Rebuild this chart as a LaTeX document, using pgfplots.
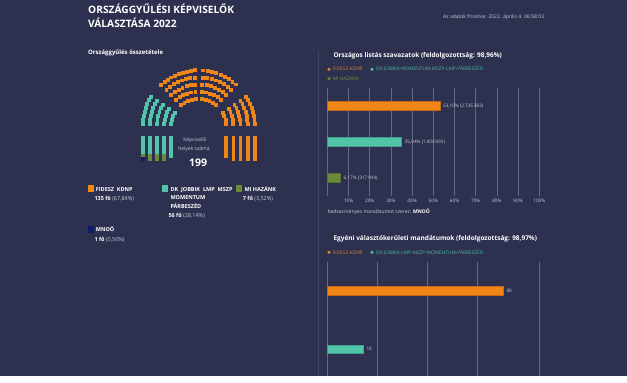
\documentclass[border=0pt]{standalone}
\usepackage{fontspec}
\setmainfont{Open Sans}
\usepackage{pgfplots}
\pgfplotsset{compat=1.18}
\definecolor{bg}{RGB}{45,48,79}
\definecolor{cOr}{RGB}{240,134,24}
\definecolor{cOrD}{RGB}{196,104,22}
\definecolor{cTe}{RGB}{82,196,170}
\definecolor{cTeD}{RGB}{60,160,140}
\definecolor{cGr}{RGB}{106,140,58}
\definecolor{cGrD}{RGB}{85,115,45}
\definecolor{cNv}{RGB}{12,28,110}
\definecolor{gridc}{RGB}{100,104,132}
\definecolor{txtg}{RGB}{200,202,215}
\definecolor{sepc}{RGB}{64,67,100}
\definecolor{tOr}{RGB}{228,128,40}
\definecolor{tTe}{RGB}{78,186,162}
\definecolor{tGr}{RGB}{112,150,62}
\pgfplotsset{
  seat/.style={only marks, scatter, mark=square*, mark size=1.45, data cs=polar,
    visualization depends on={value \thisrow{a} \as \seatrot},
    scatter/@pre marker code/.append style={/tikz/rotate=\seatrot},
    scatter/use mapped color={draw=#1, fill=#1}},
  leg/.style={only marks, mark=square*, mark size=1.4, color=#1},
}
\newcommand{\fs}[1]{\fontsize{#1}{#1}\selectfont}
\begin{document}
\begin{tikzpicture}[x=1pt,y=1pt, t/.style={inner sep=0pt, anchor=base west}]
\fill[bg] (0,0) rectangle (627,376);
\draw[sepc, line width=0.8pt] (318,326) -- (318,0);
% ---------- canvas axis: parliament and legend glyphs ----------
\begin{axis}[at={(0pt,0pt)}, anchor=south west, scale only axis, width=627pt, height=376pt,
  xmin=-198.5, xmax=428.5, ymin=-250, ymax=126, hide axis, clip=false]
% teal sector
\addplot[seat=cTe] table[x=a,y=r,row sep=\\]{a r\\
175.75 27.5\\ 167.25 27.5\\ 158.75 27.5\\ 150.25 27.5\\
176.6 34.6\\ 169.8 34.6\\ 163.0 34.6\\ 156.2 34.6\\ 149.4 34.6\\
177.17 41.75\\ 171.5 41.75\\ 165.83 41.75\\ 160.17 41.75\\ 154.5 41.75\\ 148.83 41.75\\
177.57 48.9\\ 172.71 48.9\\ 167.86 48.9\\ 163.0 48.9\\ 158.14 48.9\\ 153.29 48.9\\ 148.43 48.9\\
177.88 56\\ 173.63 56\\ 169.38 56\\ 165.13 56\\ 160.88 56\\ 156.63 56\\ 152.38 56\\ 148.13 56\\
};
% right sector
\addplot[seat=cOr] table[x=a,y=r,row sep=\\]{a r\\
4.25 27.5\\ 12.75 27.5\\ 21.25 27.5\\ 29.75 27.5\\
3.4 34.6\\ 10.2 34.6\\ 17.0 34.6\\ 23.8 34.6\\ 30.6 34.6\\
2.83 41.75\\ 8.5 41.75\\ 14.17 41.75\\ 19.83 41.75\\ 25.5 41.75\\ 31.17 41.75\\
2.43 48.9\\ 7.29 48.9\\ 12.14 48.9\\ 17.0 48.9\\ 21.86 48.9\\ 26.71 48.9\\ 31.57 48.9\\
2.13 56\\ 6.38 56\\ 10.63 56\\ 14.88 56\\ 19.13 56\\ 23.38 56\\ 27.63 56\\ 31.88 56\\
};
% top-left block
\addplot[seat=cOr] table[x=a,y=r,row sep=\\]{a r\\
129.8 27.5\\ 121.4 27.5\\ 113.0 27.5\\ 104.6 27.5\\ 96.2 27.5\\
130.5 34.6\\ 123.5 34.6\\ 116.5 34.6\\ 109.5 34.6\\ 102.5 34.6\\ 95.5 34.6\\
131 41.75\\ 125 41.75\\ 119 41.75\\ 113 41.75\\ 107 41.75\\ 101 41.75\\ 95 41.75\\
131.38 48.9\\ 126.13 48.9\\ 120.88 48.9\\ 115.63 48.9\\ 110.38 48.9\\ 105.13 48.9\\ 99.88 48.9\\ 94.63 48.9\\
131.9 56\\ 127.7 56\\ 123.5 56\\ 119.3 56\\ 115.1 56\\ 110.9 56\\ 106.7 56\\ 102.5 56\\ 98.3 56\\ 94.1 56\\
};
% top-right block
\addplot[seat=cOr] table[x=a,y=r,row sep=\\]{a r\\
50.2 27.5\\ 58.6 27.5\\ 67.0 27.5\\ 75.4 27.5\\ 83.8 27.5\\
49.5 34.6\\ 56.5 34.6\\ 63.5 34.6\\ 70.5 34.6\\ 77.5 34.6\\ 84.5 34.6\\
49 41.75\\ 55 41.75\\ 61 41.75\\ 67 41.75\\ 73 41.75\\ 79 41.75\\ 85 41.75\\
48.63 48.9\\ 53.88 48.9\\ 59.13 48.9\\ 64.38 48.9\\ 69.63 48.9\\ 74.88 48.9\\ 80.13 48.9\\ 85.38 48.9\\
48.33 56\\ 53.0 56\\ 57.67 56\\ 62.33 56\\ 67.0 56\\ 71.67 56\\ 76.33 56\\ 81.0 56\\ 85.67 56\\
};
% left leg
\addplot[leg=cTe] coordinates {
(-56,-12) (-56,-15.5) (-56,-19) (-56,-22.5) (-56,-26)
(-48.9,-12) (-48.9,-15.5) (-48.9,-19) (-48.9,-22.5) (-48.9,-26)
(-41.75,-12) (-41.75,-15.5) (-41.75,-19) (-41.75,-22.5) (-41.75,-26)
(-34.6,-12) (-34.6,-15.5) (-34.6,-19) (-34.6,-22.5) (-34.6,-26)
(-27.5,-12) (-27.5,-15.5) (-27.5,-19) (-27.5,-22.5) (-27.5,-26) (-27.5,-29.5)};
\addplot[leg=cGr] coordinates {
(-56,-29.5) (-48.9,-29.5) (-48.9,-33) (-41.75,-29.5) (-41.75,-33) (-34.6,-29.5) (-34.6,-33)};
\addplot[leg=cNv] coordinates {(-56,-33)};
% right leg
\addplot[leg=cOr] coordinates {
(56,-12) (56,-15.5) (56,-19) (56,-22.5) (56,-26) (56,-29.5) (56,-33)
(48.9,-12) (48.9,-15.5) (48.9,-19) (48.9,-22.5) (48.9,-26) (48.9,-29.5) (48.9,-33)
(41.75,-12) (41.75,-15.5) (41.75,-19) (41.75,-22.5) (41.75,-26) (41.75,-29.5) (41.75,-33)
(34.6,-12) (34.6,-15.5) (34.6,-19) (34.6,-22.5) (34.6,-26) (34.6,-29.5) (34.6,-33)
(27.5,-12) (27.5,-15.5) (27.5,-19) (27.5,-22.5) (27.5,-26) (27.5,-29.5)};
% parliament legend squares
\addplot[only marks, mark=square*, mark size=2.8, color=cOr] coordinates {(-108,-62)};
\addplot[only marks, mark=square*, mark size=2.8, color=cTe] coordinates {(-33.8,-62)};
\addplot[only marks, mark=square*, mark size=2.8, color=cGr] coordinates {(40.2,-62)};
\addplot[only marks, mark=square*, mark size=2.8, color=cNv] coordinates {(-108,-103.5)};
% chart legend dots
\addplot[only marks, mark=*, mark size=1.35, color=cOr] coordinates {(130.5,56.7) (130.5,-126.3)};
\addplot[only marks, mark=*, mark size=1.35, color=cTe] coordinates {(173.5,56.7) (173.5,-126.3)};
\addplot[only marks, mark=*, mark size=1.35, color=cGr] coordinates {(130.5,47.3)};
\end{axis}
% ---------- chart 1 ----------
\begin{axis}[at={(327.3pt,180pt)}, anchor=south west, scale only axis, width=212pt, height=108pt,
  xmin=0, xmax=100, ymin=-0.5, ymax=2.5, y dir=reverse, xbar, bar width=9pt,
  axis line style={draw=none}, xtick={0,10,...,100},
  xticklabels={,10\%,20\%,30\%,40\%,50\%,60\%,70\%,80\%,90\%,100\%},
  ytick=\empty, xmajorgrids, major grid style={gridc, line width=0.6pt}, major tick length=0pt,
  xticklabel style={font=\fs{4.7}, text=txtg},
  nodes near coords style={font=\fs{4.7}, text=txtg, anchor=west, inner sep=0pt, xshift=3pt},
  clip=false]
\addplot[xbar, bar shift=0pt, fill=cOr, draw=cOrD, nodes near coords={53,10\% (2\,735\,383)}] coordinates {(53.10,0)};
\addplot[xbar, bar shift=0pt, fill=cTe, draw=cTeD, nodes near coords={35,04\% (1\,804\,995)}] coordinates {(35.04,1)};
\addplot[xbar, bar shift=0pt, fill=cGr, draw=cGrD, nodes near coords={6,17\% (317\,944)}] coordinates {(6.17,2)};
\end{axis}
% ---------- chart 2 ----------
\begin{axis}[at={(327.3pt,0pt)}, anchor=south west, scale only axis, width=212pt, height=114.3pt,
  xmin=0, xmax=106, ymin=-0.5, ymax=1.46, y dir=reverse, xbar, bar width=8.5pt,
  axis line style={draw=none}, xtick={0,25,50,75,106}, xticklabels={},
  ytick=\empty, xmajorgrids, major grid style={gridc, line width=0.6pt}, major tick length=0pt,
  nodes near coords style={font=\fs{4.7}, text=txtg, anchor=west, inner sep=0pt, xshift=3pt},
  clip=false]
\addplot[xbar, bar shift=0pt, fill=cOr, draw=cOrD, nodes near coords={88}] coordinates {(88,0)};
\addplot[xbar, bar shift=0pt, fill=cTe, draw=cTeD, nodes near coords={18}] coordinates {(18,1)};
\end{axis}
% ---------- texts ----------
\node[t, text=white, font=\fs{10.2}\bfseries] at (88,362) {ORSZÁGGYŰLÉSI KÉPVISELŐK};
\node[t, text=white, font=\fs{10.2}\bfseries] at (88,348.7) {VÁLASZTÁSA 2022};
\node[t, text=txtg, font=\fs{5}] at (443,357.8) {Az adatok frissítve: 2022. április 4. 06:58:03};
\node[t, text=white, font=\fs{6}\bfseries] at (88,321.5) {Országgyűlés összetétele};
\node[inner sep=0pt, text=txtg, font=\fs{5}] at (195,236) {Képviselői};
\node[inner sep=0pt, text=txtg, font=\fs{5}] at (194,227) {helyek száma};
\node[inner sep=0pt, text=white, font=\fs{10.5}\bfseries] at (198,213.3) {199};
% parliament legend
\node[t, text=white, font=\fs{5.5}\bfseries] at (95.7,185) {FIDESZ\ \ KDNP};
\node[t, text=white, font=\fs{5.5}] at (94.3,175.7) {\textbf{135 fő} {\color{txtg}(67,84\%)}};
\node[t, text=white, font=\fs{5.5}\bfseries] at (170.3,185) {DK\ \ JOBBIK\ \ LMP\ \ MSZP};
\node[t, text=white, font=\fs{5.5}\bfseries] at (170.3,176.3) {MOMENTUM};
\node[t, text=white, font=\fs{5.5}\bfseries] at (170.3,167.7) {PÁRBESZÉD};
\node[t, text=white, font=\fs{5.5}] at (168.3,159) {\textbf{56 fő} {\color{txtg}(28,14\%)}};
\node[t, text=white, font=\fs{5.5}\bfseries] at (244.3,185) {MI HAZÁNK};
\node[t, text=white, font=\fs{5.5}] at (242.7,175.7) {\textbf{7 fő} {\color{txtg}(3,52\%)}};
\node[t, text=white, font=\fs{5.5}\bfseries] at (95.7,144.3) {MNOÖ};
\node[t, text=white, font=\fs{5.5}] at (94.3,134.7) {\textbf{1 fő} {\color{txtg}(0,50\%)}};
% chart 1 texts
\node[t, text=white, font=\fs{6.5}\bfseries] at (333.3,318.5) {Országos listás szavazatok (feldolgozottság: 98,96\%)};
\node[t, text=tOr, font=\fs{4.8}] at (332.7,305) {FIDESZ-KDNP};
\node[t, text=tTe, font=\fs{4.8}] at (376,305) {DK-JOBBIK-MOMENTUM-MSZP-LMP-PÁRBESZÉD};
\node[t, text=tGr, font=\fs{4.8}] at (332.7,295.6) {MI HAZÁNK};
\node[t, text=txtg, font=\fs{5}] at (327.3,163) {Kedvezményes mandátumot szerez: {\color{white}\bfseries MNOÖ}};
% chart 2 texts
\node[t, text=white, font=\fs{6.5}\bfseries] at (333.3,135.8) {Egyéni választókerületi mandátumok (feldolgozottság: 98,97\%)};
\node[t, text=tOr, font=\fs{4.8}] at (332.7,122) {FIDESZ-KDNP};
\node[t, text=tTe, font=\fs{4.8}] at (376,122) {DK-JOBBIK-LMP-MSZP-MOMENTUM-PÁRBESZÉD};
\end{tikzpicture}
\end{document}
